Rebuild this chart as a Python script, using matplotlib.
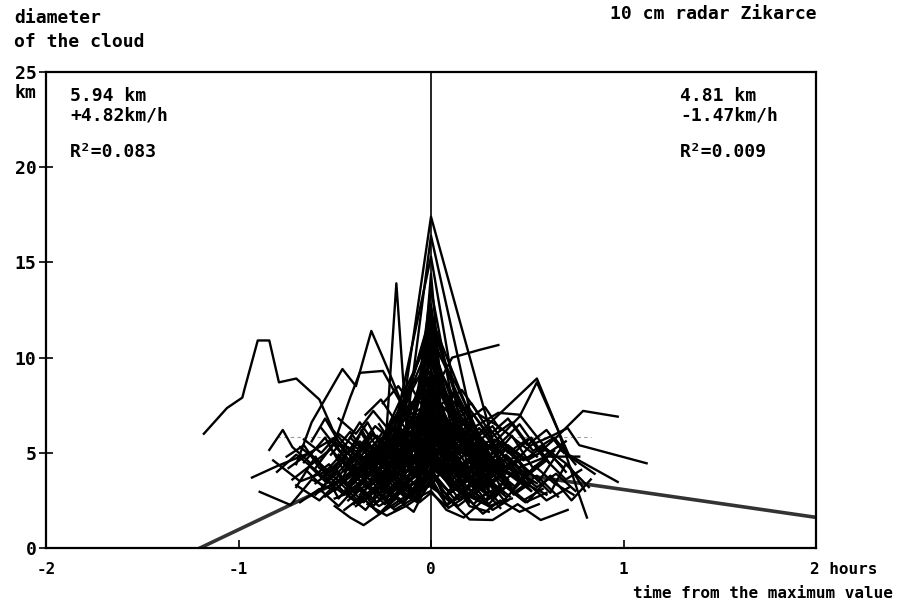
import matplotlib
matplotlib.use("Agg")
import matplotlib.pyplot as plt
import matplotlib.transforms as mtransforms

# spike traces, all peaking at t = 0
peak_traces = [
    ([-0.42, -0.31, -0.2, 0, 0.36, 0.47, 0.6], [3.2, 4.4, 3.6, 17.4, 4.2, 3.5, 2.8]),
    ([-0.35, -0.15, 0, 0.25, 0.4], [3.9, 4.6, 16.4, 5.0, 3.6]),
    ([-0.38, -0.25, 0, 0.2, 0.33, 0.45], [4.8, 3.4, 15.3, 3.6, 4.6, 3.9]),
    ([-0.3, -0.12, 0, 0.15, 0.3], [3.0, 4.1, 13.6, 5.6, 4.0]),
    ([-0.45, -0.2, 0, 0.3, 0.42], [4.3, 5.5, 12.1, 4.5, 3.2]),
    ([-0.22, -0.1, 0, 0.1, 0.22, 0.3], [3.6, 6.2, 11.6, 6.6, 4.4, 2.6]),
    ([-0.3, -0.18, -0.08, 0, 0.12, 0.2, 0.35], [2.6, 5.1, 7.3, 10.8, 7.4, 5.2, 3.8]),
    ([-0.25, -0.14, 0, 0.18, 0.28], [5.8, 7.5, 10.2, 6.8, 4.9]),
    ([-0.2, -0.1, 0, 0.08, 0.2], [4.9, 8.6, 9.6, 8.0, 5.4]),
    ([-0.4, -0.28, -0.15, 0, 0.14, 0.26, 0.38], [2.3, 3.8, 6.8, 9.1, 6.2, 5.0, 2.9]),
    ([-0.1, -0.05, 0, 0.05, 0.1, 0.17], [6.7, 8.2, 14.4, 8.6, 7.0, 5.6]),
    ([-0.08, -0.04, 0, 0.04, 0.09, 0.15], [7.2, 9.5, 12.8, 9.7, 7.6, 6.3]),
    ([-0.19, -0.12, -0.06, 0, 0.06, 0.13, 0.19], [3.6, 4.8, 6.3, 12.6, 6.4, 4.9, 3.7]),
    ([-0.24, -0.16, -0.09, 0, 0.07, 0.15, 0.24], [4.0, 5.5, 7.6, 10.6, 7.8, 5.8, 4.2]),
    ([-0.17, -0.1, -0.04, 0, 0.05, 0.11, 0.18, 0.26], [4.3, 5.9, 7.7, 10.3, 7.2, 5.3, 4.1, 3.2]),
    ([-0.3, -0.16, 0, 0.16, 0.3], [4.4, 7.0, 11.8, 7.2, 4.6]),
    ([-0.35, -0.2, -0.1, 0, 0.12, 0.24, 0.36], [3.8, 6.5, 8.8, 12.3, 8.2, 6.0, 3.9]),
    ([-0.26, -0.13, 0, 0.14, 0.28], [5.6, 8.4, 11.2, 8.0, 5.2]),
    ([-0.4, -0.25, -0.12, 0, 0.13, 0.27, 0.4], [3.4, 5.8, 8.0, 10.9, 8.6, 5.5, 3.5]),
]

# traces with peaks before t = 0 and the long ones on the left
left_traces = [
    ([-0.5, -0.36, -0.24, -0.18, -0.12, -0.04, 0, 0.1, 0.2], [3.8, 5.2, 4.8, 13.9, 5.3, 6.0, 8.4, 5.1, 3.6]),
    ([-0.7, -0.62, -0.46, -0.39, -0.31, -0.25, -0.2, -0.1, 0, 0.1], [4.4, 6.6, 9.4, 8.5, 11.4, 10.0, 8.8, 6.3, 7.8, 5.0]),
    ([-1.18, -1.06, -0.98, -0.97, -0.9, -0.84, -0.79, -0.7, -0.58, -0.51, -0.42, -0.3, -0.18, 0, 0.15],
     [6.0, 7.35, 7.9, 8.3, 10.9, 10.9, 8.7, 8.9, 7.8, 6.2, 5.1, 4.4, 5.6, 6.8, 4.2]),
    ([-0.93, -0.8, -0.63, -0.5, -0.4, -0.3, -0.2, -0.1, 0], [3.7, 4.3, 5.0, 5.8, 4.6, 6.0, 4.9, 5.6, 6.5]),
    ([-0.89, -0.73, -0.62, -0.5, -0.38, -0.27, -0.15, 0, 0.1], [2.95, 2.26, 3.6, 3.0, 4.2, 3.1, 4.5, 5.2, 4.0]),
    ([-0.84, -0.77, -0.72, -0.62, -0.52, -0.4, -0.3, -0.18, 0, 0.12], [5.15, 6.2, 5.3, 4.4, 5.2, 3.8, 4.7, 5.9, 7.0, 5.5]),
    ([-0.82, -0.68, -0.55, -0.45, -0.35, -0.22, -0.1, 0, 0.1, 0.2], [4.6, 3.5, 4.0, 2.9, 3.5, 2.5, 3.6, 4.4, 3.3, 2.7]),
    ([-0.5, -0.42, -0.35, -0.25, -0.15, -0.05, 0, 0.1, 0.2], [2.2, 1.6, 1.2, 1.9, 2.6, 3.0, 4.8, 3.6, 2.4]),
    ([-0.7, -0.6, -0.48, -0.4, -0.3, -0.2, -0.1, 0], [3.2, 4.8, 2.6, 3.6, 2.2, 3.3, 2.9, 3.8]),
    ([-0.62, -0.55, -0.44, -0.33, -0.24, -0.13, 0, 0.12, 0.24, 0.35], [5.6, 6.8, 4.9, 6.6, 5.0, 6.9, 7.6, 5.6, 4.4, 3.1]),
    ([-0.65, -0.56, -0.47, -0.36, -0.27, -0.16, -0.06, 0, 0.08], [4.1, 3.2, 4.6, 3.9, 5.4, 4.1, 4.9, 5.9, 4.8]),
    ([-0.6, -0.5, -0.42, -0.37, -0.25, -0.15, -0.05, 0, 0.1], [4.2, 5.6, 7.9, 9.2, 9.3, 7.5, 6.0, 8.0, 5.8]),
    ([-0.55, -0.45, -0.35, -0.28, -0.2, -0.12, 0, 0.1, 0.22], [3.6, 2.8, 4.4, 5.4, 3.8, 5.0, 6.1, 4.4, 3.5]),
    ([-0.75, -0.66, -0.58, -0.47, -0.38, -0.3, -0.2, -0.08, 0], [4.8, 5.4, 4.2, 3.5, 5.1, 4.0, 6.2, 4.5, 5.0]),
    ([-0.72, -0.63, -0.54, -0.44, -0.35, -0.26, -0.16, -0.06, 0], [3.6, 4.3, 3.4, 4.8, 3.7, 4.6, 3.5, 4.3, 4.9]),
    ([-0.68, -0.58, -0.5, -0.41, -0.32, -0.22, -0.12, 0], [5.3, 4.5, 5.5, 4.2, 5.4, 4.3, 5.1, 5.6]),
    ([-0.8, -0.7, -0.6, -0.52, -0.43, -0.34, -0.25, -0.15, 0], [4.0, 4.9, 4.1, 3.4, 4.3, 3.2, 4.0, 3.3, 4.5]),
    ([-0.62, -0.53, -0.44, -0.34, -0.25, -0.15, -0.06, 0, 0.07, 0.16], [3.7, 4.4, 3.3, 4.5, 3.6, 4.6, 4.0, 5.3, 4.1, 4.8]),
    ([-0.55, -0.46, -0.36, -0.27, -0.18, -0.08, 0, 0.1, 0.2, 0.3], [2.7, 3.4, 4.3, 3.4, 4.3, 3.3, 4.1, 5.0, 4.1, 3.1]),
    ([-0.68, -0.58, -0.48, -0.38, -0.28, -0.18, -0.08, 0], [2.4, 3.1, 2.2, 3.3, 2.4, 3.5, 2.6, 3.6]),
    ([-0.74, -0.63, -0.53, -0.42, -0.32, -0.21, -0.1, 0, 0.1, 0.21, 0.32], [4.2, 5.0, 3.9, 5.2, 4.1, 5.4, 4.3, 6.0, 4.7, 5.5, 4.1]),
    ([-0.66, -0.57, -0.48, -0.38, -0.29, -0.19, -0.09, 0, 0.09, 0.19, 0.29], [5.7, 5.0, 6.0, 5.2, 6.4, 5.5, 6.8, 7.2, 6.1, 6.6, 5.4]),
]

# traces running on after t = 0
right_traces = [
    ([-0.12, 0, 0.11, 0.25, 0.35], [4.6, 7.9, 10.0, 10.4, 10.66]),
    ([0, 0.12, 0.32, 0.55, 0.66, 0.76, 0.81], [6.4, 4.8, 6.7, 8.9, 6.2, 3.05, 1.6]),
    ([-0.1, 0, 0.2, 0.46, 0.55, 0.72, 0.85], [3.8, 5.6, 4.2, 6.9, 8.7, 4.8, 3.9]),
    ([-0.08, 0, 0.15, 0.3, 0.42, 0.55, 0.65, 0.79, 0.97], [3.4, 6.0, 4.4, 3.6, 4.5, 4.9, 5.8, 7.2, 6.9]),
    ([0, 0.1, 0.25, 0.4, 0.52, 0.63, 0.71, 0.77, 1.12], [5.2, 3.9, 4.8, 4.2, 5.4, 5.9, 6.3, 5.4, 4.45]),
    ([0, 0.14, 0.3, 0.45, 0.56, 0.67, 0.97], [4.6, 5.8, 3.9, 4.6, 3.5, 5.15, 3.47]),
    ([0, 0.1, 0.2, 0.32, 0.45, 0.57, 0.71], [3.2, 2.5, 1.5, 1.47, 2.3, 1.47, 2.0]),
    ([0, 0.12, 0.25, 0.38, 0.5, 0.62, 0.73, 0.83], [4.2, 3.3, 2.6, 3.4, 2.4, 3.8, 2.5, 3.6]),
    ([0, 0.08, 0.18, 0.3, 0.42, 0.5, 0.62, 0.7, 0.82], [5.5, 4.6, 3.1, 4.8, 3.0, 4.1, 2.9, 4.4, 3.2]),
    ([0, 0.15, 0.3, 0.45, 0.6, 0.77], [7.2, 5.0, 5.6, 4.2, 4.8, 4.8]),
    ([0.05, 0.2, 0.35, 0.46, 0.6, 0.72, 0.8], [5.3, 6.2, 7.1, 7.0, 5.2, 4.3, 3.0]),
    ([0, 0.09, 0.19, 0.29, 0.4, 0.5, 0.6, 0.7, 0.78], [5.0, 4.2, 5.0, 4.0, 4.8, 3.8, 4.6, 3.6, 4.1]),
    ([0, 0.11, 0.22, 0.33, 0.44, 0.54, 0.64, 0.74], [3.6, 4.2, 3.3, 4.1, 3.2, 4.3, 3.4, 2.8]),
    ([0, 0.07, 0.16, 0.26, 0.37, 0.48, 0.58, 0.68], [6.1, 5.2, 6.0, 5.0, 5.6, 4.6, 5.3, 4.3]),
    ([0, 0.1, 0.2, 0.31, 0.42, 0.53, 0.64, 0.75], [8.0, 6.5, 7.3, 5.8, 6.6, 5.1, 5.8, 4.4]),
    ([-0.38, -0.29, -0.2, -0.1, 0, 0.11, 0.22, 0.33, 0.44, 0.55, 0.65, 0.75], [3.6, 2.9, 4.0, 3.0, 4.6, 3.3, 4.4, 3.0, 4.1, 3.2, 3.9, 3.0]),
    ([-0.3, -0.2, -0.1, 0, 0.1, 0.2, 0.3, 0.4, 0.5, 0.6, 0.7], [4.7, 5.5, 4.4, 6.2, 4.8, 5.8, 4.5, 5.4, 4.6, 5.2, 4.0]),
    ([-0.25, -0.17, -0.09, 0, 0.08, 0.16, 0.25, 0.35, 0.45, 0.55], [7.6, 8.5, 7.4, 9.0, 7.7, 8.3, 7.0, 6.4, 5.6, 4.8]),
]

# dense centre
core_traces = [
    ([-0.32, -0.22, -0.12, -0.05, 0, 0.06, 0.15, 0.25, 0.34], [3.5, 4.9, 3.6, 5.8, 8.2, 5.4, 4.0, 5.3, 2.8]),
    ([-0.28, -0.18, -0.1, 0, 0.08, 0.18, 0.27, 0.38], [2.4, 3.1, 4.5, 6.6, 4.2, 3.0, 3.9, 2.5]),
    ([-0.38, -0.26, -0.15, -0.06, 0, 0.07, 0.16, 0.28, 0.4, 0.52], [4.5, 3.3, 5.4, 4.1, 7.4, 6.2, 3.5, 4.7, 3.9, 3.0]),
    ([-0.25, -0.16, -0.08, 0, 0.1, 0.2, 0.3], [2.0, 2.9, 3.9, 5.4, 3.8, 2.2, 1.9]),
    ([-0.35, -0.24, -0.14, -0.05, 0, 0.04, 0.12, 0.22, 0.32, 0.44], [5.0, 5.9, 4.3, 6.9, 9.0, 7.2, 5.9, 4.8, 5.5, 4.1]),
    ([-0.3, -0.2, -0.1, 0, 0.1, 0.2, 0.3, 0.4], [4.2, 2.7, 3.3, 4.0, 2.9, 3.6, 2.3, 3.4]),
    ([-0.45, -0.34, -0.24, -0.14, -0.04, 0, 0.05, 0.15, 0.25, 0.36], [2.9, 2.0, 3.2, 2.4, 3.6, 6.0, 3.9, 2.5, 3.3, 2.1]),
    ([-0.2, -0.12, -0.06, 0, 0.05, 0.12, 0.2], [6.2, 7.8, 6.8, 8.6, 7.1, 7.7, 6.0]),
    ([-0.4, -0.3, -0.21, -0.11, 0, 0.09, 0.19, 0.29, 0.39, 0.5], [3.9, 4.8, 3.8, 4.4, 5.6, 4.9, 5.6, 4.1, 4.9, 3.6]),
    ([-0.18, -0.09, 0, 0.09, 0.16, 0.25], [3.2, 5.2, 7.0, 5.0, 3.4, 4.1]),
    ([-0.5, -0.38, -0.27, -0.16, -0.07, 0, 0.08, 0.18, 0.3, 0.42], [2.6, 3.1, 2.2, 2.9, 2.4, 3.5, 2.3, 2.8, 2.2, 2.6]),
    ([-0.14, -0.07, 0, 0.06, 0.14], [4.4, 6.4, 8.0, 6.9, 5.0]),
    ([-0.36, -0.27, -0.19, -0.1, -0.03, 0, 0.05, 0.13, 0.22, 0.33, 0.45], [6.0, 4.6, 5.8, 6.6, 5.2, 6.4, 5.5, 6.5, 5.8, 4.4, 4.8]),
    ([-0.26, -0.17, -0.1, 0, 0.1, 0.18, 0.28, 0.4, 0.5], [3.8, 4.6, 2.8, 3.3, 4.6, 4.0, 3.2, 4.0, 3.3]),
    ([-0.42, -0.3, -0.22, -0.12, 0, 0.11, 0.23, 0.33, 0.47], [3.4, 5.3, 4.5, 5.0, 4.3, 5.3, 4.6, 5.7, 4.4]),
    ([-0.16, -0.08, 0, 0.06, 0.14, 0.23], [5.4, 7.1, 9.9, 7.9, 6.6, 5.1]),
    ([-0.33, -0.23, -0.13, -0.04, 0, 0.08, 0.17, 0.26], [2.3, 1.7, 2.2, 2.8, 3.0, 2.0, 1.6, 2.4]),
    ([-0.22, -0.11, -0.03, 0, 0.04, 0.11, 0.19, 0.28, 0.37], [4.8, 6.0, 5.0, 5.8, 6.5, 4.5, 6.3, 3.8, 4.4]),
    ([-0.48, -0.4, -0.32, -0.23, -0.15, -0.07, 0, 0.07, 0.15, 0.24, 0.34, 0.44],
     [4.9, 4.0, 3.4, 4.5, 3.7, 4.9, 4.6, 3.6, 4.3, 3.4, 4.4, 3.7]),
    ([-0.12, -0.05, 0, 0.05, 0.12], [5.0, 6.9, 11.0, 7.3, 5.6]),
    ([-0.3, -0.21, -0.13, -0.06, 0, 0.06, 0.13, 0.21, 0.3], [3.1, 4.2, 5.1, 6.1, 9.4, 6.3, 5.2, 4.0, 3.3]),
    ([-0.44, -0.35, -0.26, -0.17, -0.08, 0, 0.09, 0.18, 0.27, 0.36, 0.46], [3.7, 4.5, 3.6, 5.0, 4.2, 6.8, 4.8, 3.7, 5.1, 3.9, 4.6]),
    ([-0.37, -0.29, -0.2, -0.11, 0, 0.1, 0.19, 0.29, 0.39], [2.8, 3.6, 2.6, 3.9, 5.0, 3.3, 2.6, 3.5, 2.7]),
    ([-0.27, -0.19, -0.12, -0.05, 0, 0.05, 0.12, 0.2, 0.28], [5.5, 6.4, 5.3, 7.4, 7.9, 6.1, 6.9, 5.1, 4.5]),
    ([-0.52, -0.43, -0.33, -0.25, -0.16, -0.08, 0, 0.08, 0.17, 0.26, 0.35, 0.45, 0.55],
     [3.3, 3.9, 4.9, 3.9, 5.5, 3.9, 4.7, 5.8, 4.9, 5.8, 4.8, 4.0, 3.4]),
    ([-0.35, -0.27, -0.18, -0.09, 0, 0.09, 0.17, 0.26, 0.34], [5.2, 4.1, 6.3, 5.1, 6.9, 5.4, 6.6, 4.5, 5.1]),
    ([-0.58, -0.48, -0.38, -0.29, -0.19, -0.09, 0, 0.1, 0.2, 0.3, 0.41], [3.0, 3.5, 2.5, 3.2, 2.0, 2.6, 3.8, 2.9, 3.6, 2.7, 3.3]),
    ([-0.15, -0.09, -0.04, 0, 0.04, 0.09, 0.15], [5.9, 6.8, 8.9, 9.3, 8.4, 7.3, 5.7]),
    ([-0.41, -0.32, -0.24, -0.15, -0.06, 0, 0.06, 0.14, 0.23, 0.32, 0.42], [4.3, 3.6, 4.1, 3.2, 4.0, 4.5, 5.4, 4.2, 3.1, 3.9, 3.0]),
    ([-0.29, -0.2, -0.11, -0.04, 0, 0.05, 0.12, 0.21, 0.31], [3.9, 5.2, 6.7, 4.8, 5.7, 4.2, 5.6, 6.0, 4.7]),
    ([-0.23, -0.15, -0.07, 0, 0.07, 0.14, 0.22, 0.3], [2.6, 3.5, 2.5, 4.3, 2.6, 3.3, 2.3, 3.0]),
    ([-0.46, -0.37, -0.28, -0.18, -0.09, 0, 0.09, 0.18, 0.27, 0.37], [5.4, 5.0, 5.9, 4.6, 5.8, 5.1, 6.0, 4.9, 5.5, 5.0]),
    ([-0.33, -0.25, -0.17, -0.08, 0, 0.08, 0.16, 0.24, 0.33, 0.43, 0.53], [4.6, 2.9, 4.0, 2.9, 3.9, 2.8, 3.9, 2.9, 4.2, 2.8, 3.5]),
    ([-0.21, -0.14, -0.07, 0, 0.08, 0.16, 0.25, 0.34], [5.0, 5.6, 6.4, 8.3, 6.0, 5.2, 4.5, 3.7]),
    ([-0.39, -0.31, -0.23, -0.14, -0.06, 0, 0.06, 0.14, 0.23, 0.32, 0.4], [2.2, 2.8, 3.6, 2.7, 3.1, 4.2, 3.0, 2.2, 2.9, 2.0, 2.5]),
    ([-0.27, -0.19, -0.1, -0.03, 0, 0.04, 0.1, 0.17, 0.26], [6.5, 5.3, 6.0, 7.0, 7.3, 7.8, 5.9, 6.8, 5.2]),
    ([-0.49, -0.4, -0.31, -0.21, -0.12, -0.04, 0, 0.05, 0.13, 0.22, 0.31, 0.41, 0.5],
     [4.0, 3.0, 3.9, 3.0, 4.1, 3.4, 5.2, 4.4, 3.3, 4.5, 3.5, 4.2, 3.2]),
    ([-0.13, -0.07, 0, 0.06, 0.12, 0.2], [4.7, 5.7, 7.7, 5.6, 4.6, 3.6]),
    ([-0.34, -0.25, -0.16, -0.07, 0, 0.07, 0.15, 0.24, 0.33, 0.44], [4.4, 5.6, 4.7, 5.3, 6.2, 5.0, 4.3, 5.1, 4.0, 4.5]),
    ([-0.26, -0.18, -0.09, 0, 0.09, 0.19, 0.28], [3.0, 3.8, 4.8, 5.9, 4.5, 3.6, 2.9]),
    ([-0.42, -0.33, -0.25, -0.16, -0.07, 0, 0.07, 0.16, 0.25, 0.34], [5.8, 4.9, 6.1, 5.7, 6.8, 6.0, 7.0, 5.4, 6.3, 5.2]),
    ([-0.31, -0.22, -0.14, -0.07, 0, 0.07, 0.14, 0.22, 0.31, 0.41], [3.3, 4.0, 3.1, 3.6, 4.9, 3.8, 3.2, 4.3, 3.5, 2.7]),
    ([-0.2, -0.13, -0.06, 0, 0.06, 0.14, 0.22], [5.4, 4.7, 6.0, 6.7, 5.1, 6.2, 4.8]),
    ([-0.47, -0.38, -0.29, -0.2, -0.1, 0, 0.1, 0.19, 0.29, 0.39, 0.49, 0.6],
     [3.1, 2.4, 3.0, 2.1, 2.8, 3.3, 2.4, 3.1, 2.5, 3.2, 2.4, 2.9]),
    ([-0.36, -0.26, -0.17, -0.08, 0, 0.08, 0.18, 0.28, 0.38], [4.1, 4.9, 5.8, 4.5, 5.4, 6.1, 4.9, 5.5, 4.4]),
]

# wider zig-zag traces that fill the sides of the cloud
wide_traces = [
    ([-0.66, -0.55, -0.45, -0.36, -0.26, -0.17, -0.08, 0, 0.1, 0.2, 0.31, 0.42, 0.53, 0.64],
     [4.5, 5.8, 4.0, 6.2, 4.4, 6.5, 5.0, 7.5, 5.4, 6.6, 4.6, 5.9, 4.2, 5.1]),
    ([-0.6, -0.49, -0.39, -0.3, -0.2, -0.1, 0, 0.1, 0.21, 0.32, 0.43, 0.55, 0.66],
     [2.8, 4.0, 2.9, 4.3, 3.0, 4.4, 5.6, 4.1, 3.0, 4.2, 2.9, 3.8, 2.7]),
    ([-0.57, -0.47, -0.37, -0.28, -0.18, -0.09, 0, 0.11, 0.22, 0.34, 0.46, 0.58, 0.7],
     [6.3, 5.0, 6.6, 5.3, 7.0, 5.6, 8.8, 6.1, 7.0, 5.3, 6.5, 4.8, 5.6]),
    ([-0.7, -0.58, -0.47, -0.35, -0.24, -0.12, 0, 0.12, 0.24, 0.36, 0.48, 0.6, 0.72],
     [3.3, 2.5, 3.6, 2.4, 3.9, 2.7, 4.1, 2.6, 3.7, 2.3, 3.6, 2.5, 3.2]),
    ([-0.52, -0.42, -0.32, -0.22, -0.12, 0, 0.12, 0.22, 0.32, 0.42, 0.52, 0.62],
     [4.9, 6.1, 4.7, 5.6, 7.0, 9.8, 7.3, 5.7, 6.4, 4.9, 5.8, 4.4]),
    ([-0.64, -0.54, -0.43, -0.33, -0.23, -0.12, 0, 0.1, 0.2, 0.3, 0.4, 0.5, 0.6],
     [5.0, 4.1, 5.3, 3.8, 4.9, 4.0, 5.8, 4.6, 5.4, 4.2, 5.3, 3.9, 4.7]),
    ([-0.45, -0.36, -0.27, -0.18, -0.09, 0, 0.09, 0.18, 0.27, 0.36, 0.46, 0.56],
     [2.0, 2.7, 1.8, 2.6, 1.9, 3.7, 2.1, 2.7, 1.8, 2.5, 1.9, 2.3]),
    ([-0.56, -0.46, -0.37, -0.27, -0.18, -0.09, 0, 0.09, 0.19, 0.28, 0.38, 0.48],
     [3.8, 4.7, 5.6, 4.5, 5.9, 4.8, 6.4, 5.1, 6.0, 4.7, 5.5, 4.3]),
    ([-0.48, -0.39, -0.3, -0.21, -0.11, 0, 0.11, 0.21, 0.31, 0.4, 0.5, 0.6, 0.69],
     [6.8, 6.0, 7.2, 6.1, 7.6, 8.1, 6.9, 7.6, 6.0, 6.8, 5.4, 6.2, 5.0]),
    ([-0.5, -0.4, -0.31, -0.22, -0.13, -0.05, 0, 0.05, 0.13, 0.22, 0.31, 0.4, 0.5],
     [5.6, 4.7, 6.0, 5.2, 6.3, 5.4, 7.1, 5.8, 6.6, 5.3, 6.2, 5.0, 5.7]),
    ([-0.6, -0.5, -0.41, -0.31, -0.21, -0.1, 0, 0.1, 0.2, 0.3, 0.41, 0.52],
     [3.4, 4.2, 3.1, 4.0, 2.8, 3.9, 4.9, 3.5, 4.5, 3.2, 4.3, 3.0]),
    ([-0.34, -0.26, -0.18, -0.1, -0.03, 0, 0.05, 0.12, 0.2, 0.28, 0.36],
     [7.0, 7.8, 6.6, 8.4, 7.2, 8.6, 7.5, 8.2, 6.8, 7.4, 6.2]),
    ([-0.43, -0.34, -0.24, -0.15, -0.06, 0, 0.08, 0.17, 0.27, 0.37, 0.48, 0.58],
     [2.5, 3.3, 2.3, 3.0, 2.4, 2.9, 2.2, 3.0, 2.4, 3.4, 2.5, 3.1]),
]

# regression lines
left_fit_t = [-1.2, 0]
left_fit_d = [0.0, 5.78]
right_fit_t = [0, 2]
right_fit_d = [4.53, 1.61]
mean_t = [-0.8, 0.83]
mean_d = [5.83, 5.83]

xticks = [-2, -1, 0, 1, 2]
xticklabels = ["-2", "-1", "0", "1", "2 hours"]
yticks = [0, 5, 10, 15, 20, 25]
yticklabels = ["0", "5", "10", "15", "20", "25"]

font = dict(family="DejaVu Sans Mono", weight="bold", size=13)
small = dict(family="DejaVu Sans Mono", weight="bold", size=11.5)

fig = plt.figure(figsize=(8.98, 6.07), dpi=100)
ax = fig.add_axes([46 / 898, 59 / 607, 770 / 898, 476 / 607])

ax.plot(left_fit_t, left_fit_d, color="#333333", lw=2.6, zorder=1)
ax.plot(right_fit_t, right_fit_d, color="#333333", lw=2.6, zorder=1)
ax.plot(mean_t, mean_d, color="#999999", lw=0.8, ls=(0, (3, 3)), zorder=1)

for group in (left_traces, right_traces, core_traces, wide_traces, peak_traces):
    for t, d in group:
        ax.plot(t, d, color="black", lw=1.7, zorder=2)

ax.plot([0, 0], [0, 25], color="black", lw=1.2, zorder=3)

ax.set_xlim(-2, 2)
ax.set_ylim(0, 25)
for s in ax.spines.values():
    s.set_linewidth(1.6)
ax.set_xticks(xticks)
ax.set_xticklabels(xticklabels, fontdict=small)
ax.set_yticks(yticks)
ax.set_yticklabels(yticklabels, fontdict=font)
ax.tick_params(axis="x", direction="in", length=6, width=1.2, pad=10)
ax.tick_params(axis="y", direction="inout", length=10, width=1.2, pad=2)

lab = ax.get_xticklabels()[-1]
lab.set_horizontalalignment("left")
lab.set_transform(lab.get_transform() + mtransforms.ScaledTranslation(-6 / 100, 0, fig.dpi_scale_trans))

fig.text(14 / 898, 1 - 18 / 607, "diameter", va="center", ha="left", **font)
fig.text(14 / 898, 1 - 42 / 607, "of the cloud", va="center", ha="left", **font)
fig.text(817 / 898, 1 - 14 / 607, "10 cm radar Zikarce", va="center", ha="right", **font)
fig.text(14 / 898, 1 - 93 / 607, "km", va="center", ha="left", **font)
fig.text(893 / 898, 1 - 594 / 607, "time from the maximum value", va="center", ha="right", **small)

fig.text(70 / 898, 1 - 96 / 607, "5.94 km", va="center", ha="left", **font)
fig.text(70 / 898, 1 - 115 / 607, "+4.82km/h", va="center", ha="left", **font)
fig.text(70 / 898, 1 - 152 / 607, "R²=0.083", va="center", ha="left", **font)
fig.text(680 / 898, 1 - 96 / 607, "4.81 km", va="center", ha="left", **font)
fig.text(680 / 898, 1 - 115 / 607, "-1.47km/h", va="center", ha="left", **font)
fig.text(680 / 898, 1 - 152 / 607, "R²=0.009", va="center", ha="left", **font)

fig.savefig("out.png", dpi=100, facecolor="white")
